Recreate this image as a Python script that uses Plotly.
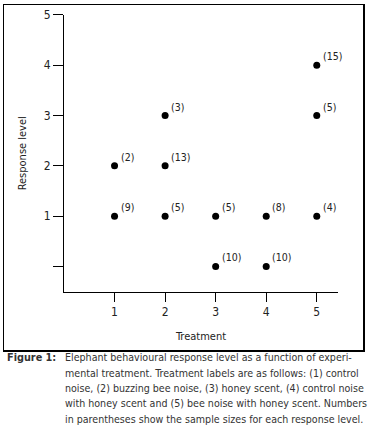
import plotly.graph_objects as go

# Data
treatment = [1, 1, 2, 2, 2, 3, 3, 4, 4, 5, 5, 5]
response = [2, 1, 3, 2, 1, 1, 0, 1, 0, 4, 3, 1]
sample_n = [2, 9, 3, 13, 5, 5, 10, 8, 10, 15, 5, 4]
x_ticks = [1, 2, 3, 4, 5]
y_ticks = [0, 1, 2, 3, 4, 5]
y_tick_labels = ["", "1", "2", "3", "4", "5"]

caption_lines = [
    "Elephant behavioural response level as a function of experi-",
    "mental treatment. Treatment labels are as follows: (1) control",
    "noise, (2) buzzing bee noise, (3) honey scent, (4) control noise",
    "with honey scent and (5) bee noise with honey scent. Numbers",
    "in parentheses show the sample sizes for each response level.",
]

FONT = "DejaVu Sans Condensed, sans-serif"
W, H = 370, 442
# outer frame box (pixels) = plotting region of the frame axes
L, R, T, B = 4, 7, 5, 91.5
pw, ph = W - L - R, H - T - B


def px(x):
    return (x - L) / pw


def py(y):
    return (H - B - y) / ph


def f(size, color="#222"):
    return dict(family=FONT, size=size, color=color)


fig = go.Figure()
fig.add_trace(go.Scatter(
    x=treatment, y=response, mode="markers",
    marker=dict(color="black", size=7),
    hoverinfo="skip", showlegend=False, xaxis="x", yaxis="y",
))
# empty trace so the frame subplot is created
fig.add_trace(go.Scatter(
    x=[], y=[], mode="markers", hoverinfo="skip", showlegend=False,
    xaxis="x2", yaxis="y2",
))

annotations = []
for xv, yv, n in zip(treatment, response, sample_n):
    annotations.append(dict(
        x=xv, y=yv, xref="x", yref="y", text=f"({n})", showarrow=False,
        xanchor="left", yanchor="middle", xshift=4, yshift=9,
        font=f(10.5),
    ))

annotations.append(dict(
    x=px(5), y=py(358), xref="paper", yref="paper", text="<b>Figure 1:</b>",
    showarrow=False, xanchor="left", yanchor="middle",
    font=f(10.8, "#333"),
))
for i, line in enumerate(caption_lines):
    annotations.append(dict(
        x=px(63), y=py(358 + i * 15.3), xref="paper", yref="paper", text=line,
        showarrow=False, xanchor="left", yanchor="middle",
        font=f(10.6, "#333"),
    ))

frame_axis = dict(
    domain=[0, 1], range=[0, 1], showline=True, mirror=True,
    linecolor="black", linewidth=1.5, showticklabels=False, ticks="",
    showgrid=False, zeroline=False, fixedrange=True, automargin=False,
)

fig.update_layout(
    width=W, height=H,
    margin=dict(l=L, r=R, t=T, b=B, autoexpand=False),
    paper_bgcolor="white", plot_bgcolor="rgba(0,0,0,0)",
    font=f(11),
    xaxis=dict(
        domain=[px(64), px(338)], anchor="y",
        range=[0, 5.42], tickvals=x_ticks, ticktext=[str(v) for v in x_ticks],
        showgrid=False, zeroline=False, showline=True, linecolor="black",
        linewidth=1, ticks="outside", ticklen=9, tickcolor="black",
        tickfont=f(12),
        title=dict(text="Treatment", standoff=14, font=f(11)),
        automargin=False, fixedrange=True,
    ),
    yaxis=dict(
        domain=[py(292), py(15)], anchor="x",
        range=[-0.5, 5], tickvals=y_ticks, ticktext=y_tick_labels,
        showgrid=False, zeroline=False, showline=True, linecolor="black",
        linewidth=1, ticks="outside", ticklen=10, tickcolor="black",
        tickfont=f(12),
        title=dict(text="Response level", standoff=14, font=f(11)),
        automargin=False, fixedrange=True,
    ),
    xaxis2=dict(anchor="y2", **frame_axis),
    yaxis2=dict(anchor="x2", **frame_axis),
    annotations=annotations,
)

fig.write_html(
    "out.html",
    config={"displayModeBar": False, "staticPlot": True},
    post_script="document.body.style.margin='0';document.body.style.padding='0';",
)
